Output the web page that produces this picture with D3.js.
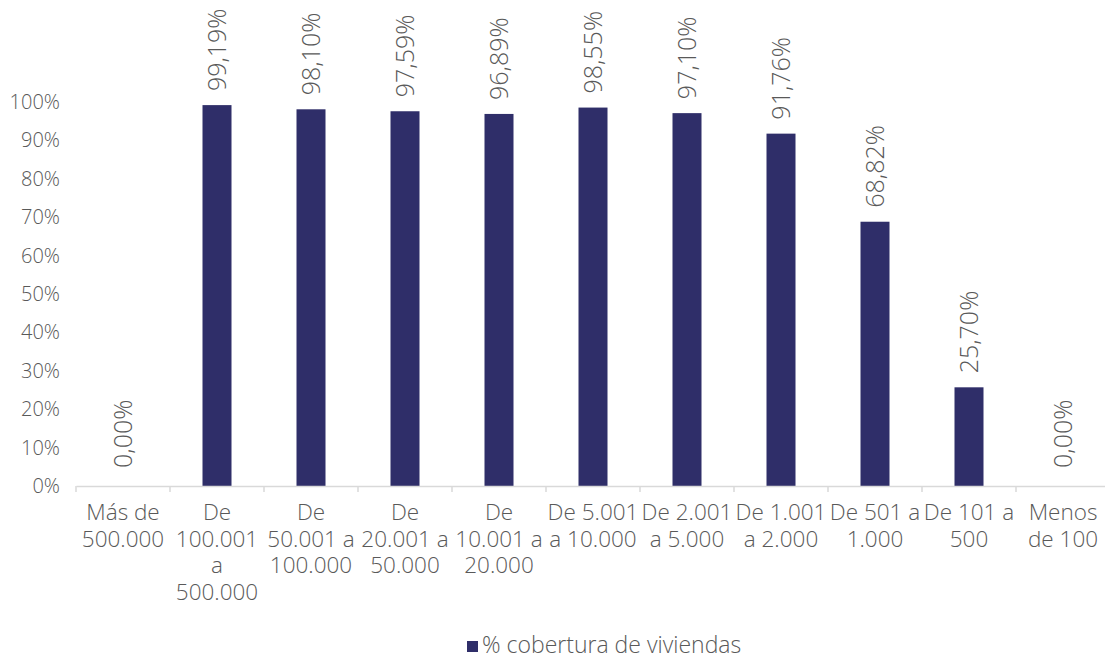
<!DOCTYPE html>
<html>
<head>
<meta charset="utf-8">
<script src="https://cdn.jsdelivr.net/npm/d3@7"></script>
<style>
  body { margin: 0; background: #fff; }
  text { font-family: "Open Sans", "Noto Sans", sans-serif; font-weight: 300; fill: #595959; }
</style>
</head>
<body>
<svg id="chart" width="1105" height="660"></svg>
<script>
// categories (wrapped like the original), values and y ticks
var categories = ["Más de 500.000", "De 100.001 a 500.000", "De 50.001 a 100.000", "De 20.001 a 50.000",
  "De 10.001 a 20.000", "De 5.001 a 10.000", "De 2.001 a 5.000", "De 1.001 a 2.000",
  "De 501 a 1.000", "De 101 a 500", "Menos de 100"];
var categoryLines = [
  ["Más de", "500.000"],
  ["De", "100.001", "a", "500.000"],
  ["De", "50.001 a", "100.000"],
  ["De", "20.001 a", "50.000"],
  ["De", "10.001 a", "20.000"],
  ["De 5.001", "a 10.000"],
  ["De 2.001", "a 5.000"],
  ["De 1.001", "a 2.000"],
  ["De 501 a", "1.000"],
  ["De 101 a", "500"],
  ["Menos", "de 100"]
];
var values = [0.00, 99.19, 98.10, 97.59, 96.89, 98.55, 97.10, 91.76, 68.82, 25.70, 0.00];
var yTicks = [0, 10, 20, 30, 40, 50, 60, 70, 80, 90, 100];
var seriesName = "% cobertura de viviendas";

var svg = d3.select("#chart");

var x = d3.scaleBand().domain(categories).range([76, 1110]);
var y = d3.scaleLinear().domain([0, 100]).range([486, 102]);
var barW = 29;

function fmt(v) { return v.toFixed(2).replace(".", ",") + "%"; }

// y labels
svg.append("g").selectAll("text").data(yTicks).enter().append("text")
  .attr("x", 60)
  .attr("y", function(d) { return y(d); })
  .attr("dy", "0.35em")
  .attr("text-anchor", "end")
  .style("font-size", "20px")
  .text(function(d) { return d + "%"; });

// bars
svg.append("g").selectAll("rect").data(values).enter().append("rect")
  .attr("x", function(d, i) { return x(categories[i]) + x.bandwidth()/2 - barW/2; })
  .attr("y", function(d) { return y(d); })
  .attr("width", barW)
  .attr("height", function(d) { return y(0) - y(d); })
  .attr("fill", "#2f2e69");

// x axis line + category separators
var xAxis = d3.axisBottom(x).tickSize(0).tickFormat("");
var gx = svg.append("g").attr("transform", "translate(0," + y(0) + ")").call(xAxis);
gx.select(".domain").attr("stroke", "#d9d9d9").attr("stroke-width", 1.5);
gx.selectAll(".tick").remove();
svg.append("g").selectAll("line").data(categories.concat([null])).enter().append("line")
  .attr("x1", function(d, i) { return 76 + i * x.bandwidth(); })
  .attr("x2", function(d, i) { return 76 + i * x.bandwidth(); })
  .attr("y1", y(0))
  .attr("y2", y(0) + 6)
  .attr("stroke", "#d9d9d9")
  .attr("stroke-width", 1.5);

// category labels
var catG = svg.append("g").selectAll("text").data(categories).enter().append("text")
  .attr("text-anchor", "middle")
  .style("font-size", "22.5px")
  .attr("transform", function(d) { return "translate(" + (x(d) + x.bandwidth()/2) + ",520)"; });
catG.selectAll("tspan").data(function(d, i) { return categoryLines[i]; }).enter().append("tspan")
  .attr("x", 0)
  .attr("y", function(d, i) { return i * 26.5; })
  .text(function(d) { return d; });

// value labels (rotated)
svg.append("g").selectAll("text").data(values).enter().append("text")
  .attr("transform", function(d, i) {
    var cx = x(categories[i]) + x.bandwidth()/2;
    var gap = d === 0 ? 18 : 14;
    return "translate(" + (cx + 9) + "," + (y(d) - gap) + ") rotate(-90)";
  })
  .attr("text-anchor", "start")
  .style("font-size", "25px")
  .text(function(d) { return fmt(d); });

// legend
var leg = svg.append("g").attr("transform", "translate(467,641)");
leg.append("rect").attr("width", 11).attr("height", 11).attr("fill", "#2f2e69");
leg.append("text").attr("x", 15).attr("y", 12).style("font-size", "23px").text(seriesName);
</script>
</body>
</html>
